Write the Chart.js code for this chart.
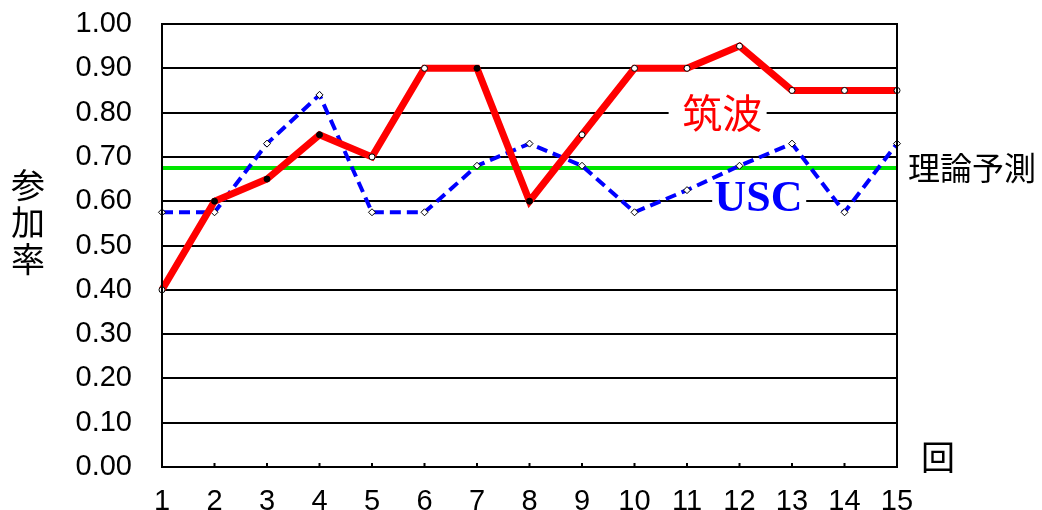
<!DOCTYPE html>
<html>
<head>
<meta charset="utf-8">
<script src="https://cdn.jsdelivr.net/npm/chart.js@4.4.1/dist/chart.umd.min.js"></script>
<style>
  html, body { margin: 0; padding: 0; background: #fff; }
  #wrap { width: 1042px; height: 510px; }
</style>
</head>
<body>
<div id="wrap"><canvas id="chart"></canvas></div>
<script>
// 回 (rounds)
const rounds = ['1', '2', '3', '4', '5', '6', '7', '8', '9', '10', '11', '12', '13', '14', '15'];
// 筑波 participation rate
const tsukuba = [0.40, 0.60, 0.65, 0.75, 0.70, 0.90, 0.90, 0.60, 0.75, 0.90, 0.90, 0.95, 0.85, 0.85, 0.85];
// USC participation rate
const usc = [0.575, 0.575, 0.73, 0.84, 0.575, 0.575, 0.68, 0.73, 0.68, 0.575, 0.625, 0.68, 0.73, 0.575, 0.73];
// 理論予測 (theoretical prediction)
const theory = rounds.map(() => 0.675);
// red markers drawn filled black in the original
const tsukubaFill = ['#fff', '#000', '#000', '#000', '#fff', '#fff', '#000', '#000', '#fff', '#fff', '#fff', '#fff', '#fff', '#fff', '#fff'];

const cjk = '"Noto Sans CJK JP", "Noto Sans CJK SC", sans-serif';
const tickFont = { family: '"Liberation Sans", Arial, sans-serif', size: 29 };

// Labels, frame and inner tick marks
const decorations = {
  id: 'decorations',
  beforeDatasetsDraw(chart) {
    const { ctx, scales: { x, y } } = chart;
    ctx.save();
    ctx.fillStyle = '#fff';
    // gaps in the grid behind the series labels
    ctx.fillRect(x.getPixelForValue(9.65), y.getPixelForValue(0.82), 98, 36);
    ctx.fillRect(x.getPixelForValue(10.48), y.getPixelForValue(0.655), 94, 28);
    ctx.restore();
  },
  afterDatasetsDraw(chart) {
    const { ctx, chartArea: a, scales: { x, y } } = chart;
    ctx.save();
    ctx.strokeStyle = '#000';
    ctx.lineWidth = 2;
    ctx.strokeRect(a.left, a.top, a.right - a.left, a.bottom - a.top);
    // small tick marks on the bottom edge
    ctx.beginPath();
    rounds.forEach((r, i) => {
      const px = x.getPixelForValue(i);
      ctx.moveTo(px, a.bottom);
      ctx.lineTo(px, a.bottom - 4);
    });
    ctx.stroke();

    ctx.textAlign = 'center';
    ctx.textBaseline = 'middle';
    ctx.fillStyle = '#ff0000';
    ctx.font = '40px ' + cjk;
    ctx.fillText('筑波', x.getPixelForValue(10.67), y.getPixelForValue(0.80));
    ctx.fillStyle = '#0000ff';
    ctx.font = 'bold 44px "Liberation Serif", serif';
    ctx.fillText('USC', x.getPixelForValue(11.36), y.getPixelForValue(0.608) + 2);

    ctx.fillStyle = '#000';
    ctx.font = '32px ' + cjk;
    ctx.textAlign = 'left';
    ctx.fillText('理論予測', a.right + 11, y.getPixelForValue(0.675));
    ctx.font = '34px ' + cjk;
    ctx.textAlign = 'center';
    ctx.fillText('回', a.right + 41, a.bottom - 10);
    ['参', '加', '率'].forEach((ch, i) => ctx.fillText(ch, 28, 185 + i * 37));
    ctx.restore();
  }
};

new Chart(document.getElementById('chart'), {
  type: 'line',
  data: {
    labels: rounds,
    datasets: [
      {
        label: '理論予測',
        data: theory,
        borderColor: '#00e600',
        borderWidth: 4,
        pointRadius: 0,
        order: 3
      },
      {
        label: 'USC',
        data: usc,
        borderColor: '#0000ff',
        borderWidth: 4,
        borderDash: [11, 6],
        pointStyle: 'rectRot',
        pointRadius: 3.5,
        pointBorderWidth: 1,
        pointBorderColor: '#000',
        pointBackgroundColor: '#fff',
        tension: 0,
        order: 2
      },
      {
        label: '筑波',
        data: tsukuba,
        borderColor: '#ff0000',
        borderWidth: 7,
        pointRadius: 3,
        pointBorderWidth: 1,
        pointBorderColor: '#000',
        pointBackgroundColor: tsukubaFill,
        tension: 0,
        order: 1
      }
    ]
  },
  options: {
    responsive: true,
    maintainAspectRatio: false,
    animation: false,
    layout: { padding: { top: 24, right: 145, bottom: 0, left: 0 } },
    plugins: {
      legend: { display: false },
      tooltip: { enabled: false }
    },
    scales: {
      x: {
        type: 'category',
        offset: false,
        grid: { display: false },
        border: { display: false },
        ticks: {
          color: '#000',
          padding: 10,
          maxRotation: 0,
          autoSkip: false,
          font: tickFont
        },
        afterFit(scale) {
          scale.height = 43;
          scale.paddingLeft = 0;
          scale.paddingRight = 0;
        }
      },
      y: {
        min: 0,
        max: 1,
        grid: { color: '#000', lineWidth: 2, drawTicks: false },
        border: { color: '#000', width: 2 },
        ticks: {
          stepSize: 0.1,
          color: '#000',
          padding: 30,
          font: tickFont,
          callback: (v) => v.toFixed(2)
        },
        afterFit(scale) {
          scale.width = 162;
          scale.paddingTop = 0;
          scale.paddingBottom = 0;
        }
      }
    }
  },
  plugins: [decorations]
});
</script>
</body>
</html>
